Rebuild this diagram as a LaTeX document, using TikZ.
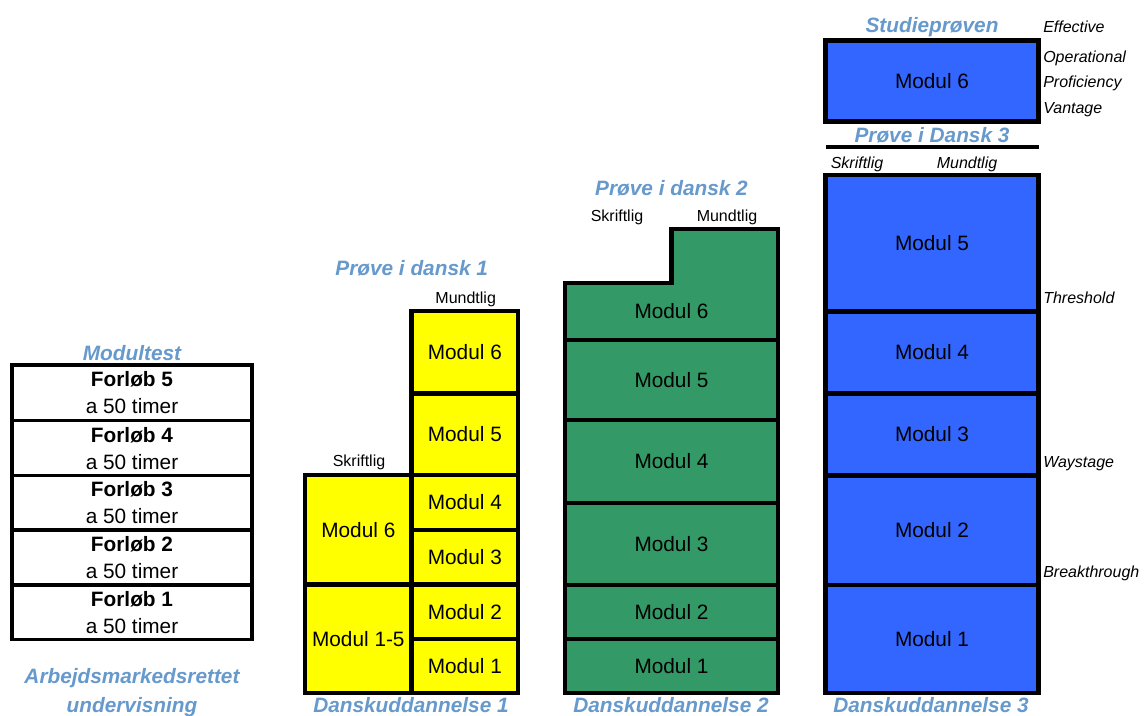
\documentclass[tikz,border=0pt]{standalone}
\usepackage{fontspec}
\setmainfont{Liberation Sans}
\definecolor{headblue}{RGB}{102,153,204}
\definecolor{yel}{RGB}{255,255,0}
\definecolor{grn}{RGB}{51,153,102}
\definecolor{blu}{RGB}{51,102,255}
\newcommand\cellbox[7]{\node[#1, minimum width={(#5-#3)*0.75pt}, minimum height={(#6-#4)*0.75pt}] (#2) at ({(#3+#5)/2},{(#4+#6)/2}) {#7};}
\tikzset{
  big/.style={font=\fontsize{15.6}{20.25}\selectfont},
  head/.style={font=\fontsize{15.6}{20.25}\selectfont\bfseries\itshape, text=headblue, inner sep=0pt, anchor=base},
  small/.style={font=\fontsize{12}{14}\selectfont, inner sep=0pt, anchor=base},
  ital/.style={font=\fontsize{12}{14}\selectfont\itshape, inner sep=0pt, anchor=base},
  lvl/.style={font=\fontsize{12}{14}\selectfont\itshape, inner sep=0pt, anchor=base west},
  cellbase/.style={big, draw=black, line width=3.4pt, inner sep=0pt, outer sep=0pt, align=center},
  cY/.style={cellbase, fill=yel},
  cG/.style={cellbase, fill=grn},
  cB/.style={cellbase, fill=blu},
  rowbox/.style={big, draw=black, line width=2.3pt, inner sep=0pt, outer sep=0pt, align=center, fill=white},
}
\begin{document}
\begin{tikzpicture}[x=0.75pt,y=-0.75pt]
\useasboundingbox[fill=white] (0,0) rectangle (1145,716);

% ---------- Modultest ----------
\node[head] (mt) at (132,360.5) {Modultest};
\cellbox{rowbox}{f5}{12}{365}{252}{420.7}{\textbf{Forløb 5}\\a 50 timer}
\cellbox{rowbox}{f4}{12}{420.7}{252}{475.7}{\textbf{Forløb 4}\\a 50 timer}
\cellbox{rowbox}{f3}{12}{475.7}{252}{530}{\textbf{Forløb 3}\\a 50 timer}
\cellbox{rowbox}{f2}{12}{530}{252}{585}{\textbf{Forløb 2}\\a 50 timer}
\cellbox{rowbox}{f1}{12}{585}{252}{639.5}{\textbf{Forløb 1}\\a 50 timer}
\node[head] (amu1) at (132,683.5) {Arbejdsmarkedsrettet};
\node[head] (amu2) at (132,712.5) {undervisning};

% ---------- Danskuddannelse 1 ----------
\node[head] (pd1) at (411.7,276) {Prøve i dansk 1};
\node[small] (d1m) at (465.7,304) {Mundtlig};
\node[small] (d1s) at (359,466.7) {Skriftlig};
\cellbox{cY}{d1r6}{411.7}{311}{518}{393.3}{Modul 6}
\cellbox{cY}{d1r5}{411.7}{393.3}{518}{475}{Modul 5}
\cellbox{cY}{d1r4}{411.7}{475}{518}{530}{Modul 4}
\cellbox{cY}{d1r3}{411.7}{530}{518}{584.5}{Modul 3}
\cellbox{cY}{d1r2}{411.7}{584.5}{518}{639}{Modul 2}
\cellbox{cY}{d1r1}{411.7}{639}{518}{693}{Modul 1}
\cellbox{cY}{d1l6}{305}{475}{411.7}{584.5}{Modul 6}
\cellbox{cY}{d1l15}{305}{584.5}{411.7}{693}{Modul 1-5}
\node[head] (du1) at (411,712.5) {Danskuddannelse 1};

% ---------- Danskuddannelse 2 ----------
\node[head] (pd2) at (671.5,195.5) {Prøve i dansk 2};
\node[small] (d2s) at (617,221.7) {Skriftlig};
\node[small] (d2m) at (727,221.7) {Mundtlig};
\draw[fill=grn, line width=3.4pt] (565,340) -- (565,283) -- (671.7,283) -- (671.7,229) -- (778,229) -- (778,340) -- cycle;
\node[big, inner sep=0pt] (d2m6) at (671.5,311.5) {Modul 6};
\cellbox{cG}{d2m5}{565}{340}{778}{420}{Modul 5}
\cellbox{cG}{d2m4}{565}{420}{778}{503}{Modul 4}
\cellbox{cG}{d2m3}{565}{503}{778}{585}{Modul 3}
\cellbox{cG}{d2m2}{565}{585}{778}{639}{Modul 2}
\cellbox{cG}{d2m1}{565}{639}{778}{693}{Modul 1}
\node[head] (du2) at (671,712.5) {Danskuddannelse 2};

% ---------- Danskuddannelse 3 ----------
\node[head] (sp) at (932,33) {Studieprøven};
\cellbox{cB}{d3m6}{825.5}{40.5}{1038.5}{121.5}{Modul 6}
\node[head] (pd3) at (932,142.3) {Prøve i Dansk 3};
\coordinate (lineL) at (826,147);
\coordinate (lineR) at (1039,147);
\draw[line width=2.5pt] (lineL) -- (lineR);
\node[ital] (d3s) at (857,168.3) {Skriftlig};
\node[ital] (d3m) at (967,168.3) {Mundtlig};
\cellbox{cB}{d3m5}{825.5}{175}{1038.5}{311.7}{Modul 5}
\cellbox{cB}{d3m4}{825.5}{311.7}{1038.5}{393.3}{Modul 4}
\cellbox{cB}{d3m3}{825.5}{393.3}{1038.5}{475.7}{Modul 3}
\cellbox{cB}{d3m2}{825.5}{475.7}{1038.5}{585}{Modul 2}
\cellbox{cB}{d3m1}{825.5}{585}{1038.5}{693}{Modul 1}
\node[head] (du3) at (931,712.5) {Danskuddannelse 3};

% ---------- CEFR levels ----------
\node[lvl] (eff) at (1043,33) {Effective};
\node[lvl] (ope) at (1043,62.5) {Operational};
\node[lvl] (pro) at (1043,88) {Proficiency};
\node[lvl] (van) at (1043,114) {Vantage};
\node[lvl] (thr) at (1043,304) {Threshold};
\node[lvl] (way) at (1043,467) {Waystage};
\node[lvl] (brk) at (1043,577.5) {Breakthrough};
\end{tikzpicture}
\end{document}
